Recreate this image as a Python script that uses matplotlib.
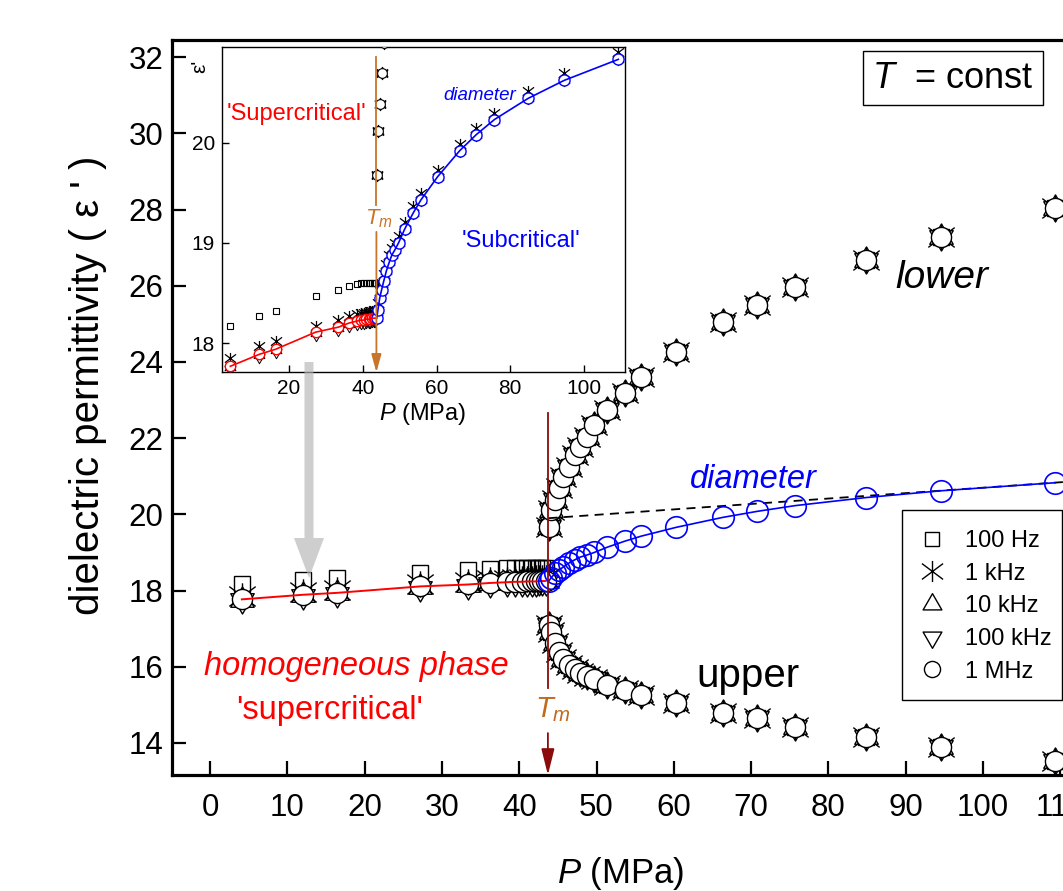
import matplotlib
matplotlib.use('Agg')
import matplotlib.pyplot as plt
from matplotlib.path import Path
from matplotlib.patches import FancyArrow, Rectangle
from matplotlib.lines import Line2D

plt.rcParams['font.family'] = ['Liberation Sans', 'DejaVu Sans']
plt.rcParams['mathtext.fontset'] = 'custom'
plt.rcParams['mathtext.rm'] = 'Liberation Sans'
plt.rcParams['mathtext.it'] = 'Liberation Sans:italic'
plt.rcParams['mathtext.bf'] = 'Liberation Sans:bold'

# ---------------- data ----------------
Tm = 43.7
freq_labels = ['100 Hz', '1 kHz', '10 kHz', '100 kHz', '1 MHz']

# homogeneous ('supercritical') phase, P < Tm
P_homo = [4.1, 12.0, 16.4, 27.2, 33.4, 36.2, 38.4, 39.4, 40.3, 41.0, 41.6, 42.1, 42.6, 43.0, 43.4]
eps_100Hz_homo = [18.17, 18.27, 18.32, 18.47, 18.53, 18.57, 18.59, 18.60, 18.60, 18.60, 18.60, 18.60, 18.60, 18.60, 18.60]
eps_1kHz_homo = [17.85, 17.97, 18.02, 18.17, 18.23, 18.27, 18.29, 18.30, 18.30, 18.31, 18.31, 18.32, 18.32, 18.33, 18.33]
eps_10kHz_homo = [17.76, 17.88, 17.93, 18.10, 18.15, 18.19, 18.21, 18.22, 18.22, 18.23, 18.23, 18.23, 18.24, 18.24, 18.24]
eps_100kHz_homo = [17.74, 17.86, 17.91, 18.08, 18.13, 18.17, 18.19, 18.20, 18.20, 18.21, 18.21, 18.21, 18.22, 18.22, 18.22]
eps_1MHz_homo = [17.77, 17.89, 17.94, 18.11, 18.16, 18.20, 18.22, 18.23, 18.23, 18.24, 18.24, 18.24, 18.25, 18.25, 18.25]

# two-phase region, P > Tm
P_2ph = [43.8, 44.1, 44.6, 45.1, 45.7, 46.4, 47.2, 47.9, 48.7, 49.7, 51.4, 53.7, 55.8, 60.3, 66.3, 70.8, 75.7, 84.8, 94.6, 109.3]
eps_lower = [19.68, 20.12, 20.38, 20.69, 20.99, 21.25, 21.56, 21.78, 22.04, 22.35, 22.74, 23.19, 23.60, 24.27, 25.04, 25.49, 25.98, 26.68, 27.29, 28.05]
eps_upper = [17.10, 16.90, 16.62, 16.38, 16.20, 16.06, 15.94, 15.85, 15.77, 15.67, 15.52, 15.40, 15.27, 15.05, 14.78, 14.65, 14.43, 14.16, 13.90, 13.52]
eps_diam = [18.25, 18.33, 18.45, 18.53, 18.62, 18.72, 18.81, 18.88, 18.93, 19.00, 19.14, 19.30, 19.43, 19.66, 19.92, 20.08, 20.23, 20.44, 20.62, 20.83]
eps_diam_1kHz = [18.32, 18.40, 18.52, 18.60, 18.69, 18.79, 18.88, 18.95, 19.00, 19.07, 19.21, 19.37, 19.50, 19.73, 19.99, 20.15, 20.30, 20.51, 20.69, 20.90]

# rectilinear diameter (dashed)
dash_P = [43.8, 111.2]
dash_eps = [19.90, 20.86]

# ---------------- figure ----------------
W, H = 1063, 891
fig = plt.figure(figsize=(W / 100, H / 100), dpi=100)


def fx(px):
    return px / W


def fy(py):
    return 1 - py / H


def ptxt(px, py, s, **kw):
    kw.setdefault('ha', 'center')
    kw.setdefault('va', 'center')
    return fig.text(fx(px), fy(py), s, **kw)


ast = Path([(0, -1), (0, 1), (-1, -0.75), (1, 0.75), (-1, 0.75), (1, -0.75)],
           [Path.MOVETO, Path.LINETO] * 3)
# equilateral triangles centred on their centroid (Origin style)
tri_up = Path([(0, 1), (-0.866, -0.5), (0.866, -0.5), (0, 1)],
              [Path.MOVETO, Path.LINETO, Path.LINETO, Path.CLOSEPOLY])
tri_dn = Path([(0, -1), (-0.866, 0.5), (0.866, 0.5), (0, -1)],
              [Path.MOVETO, Path.LINETO, Path.LINETO, Path.CLOSEPOLY])

maroon = '#8B0A0A'
tmcol = '#C8742A'

# ---------------- main axes ----------------
ax = fig.add_axes([fx(171.5), fy(775), (1069.6 - 171.5) / W, (775 - 40) / H])
ax.set_xlim(-5.0, 111.2)
ax.set_ylim(13.16, 32.45)
for s in ['left', 'bottom', 'top']:
    ax.spines[s].set_linewidth(2.3)
ax.spines['right'].set_visible(False)
ax.set_xticks(range(0, 111, 10))
ax.set_yticks(range(14, 33, 2))
ax.tick_params(direction='in', length=10, width=1.6, labelsize=22.5)
ax.tick_params(axis='x', pad=13)
ax.tick_params(axis='y', pad=6)

specs = [
    ('s', 12, eps_100Hz_homo, 'none', 3.0),
    (ast, 19, eps_1kHz_homo, 'none', 3.1),
    (tri_up, 19.5, eps_10kHz_homo, 'none', 3.2),
    (tri_dn, 19.5, eps_100kHz_homo, 'none', 3.3),
    ('o', 14.5, eps_1MHz_homo, 'white', 3.4),
]
handles = []
for (m, ms, homo, mfc, z), lab in zip(specs, freq_labels):
    kw = dict(ls='none', marker=m, ms=ms, mfc=mfc, mec='black', mew=1.0, zorder=z)
    ax.plot(P_homo, homo, **kw)
    ax.plot(P_2ph, eps_lower, **kw)
    ax.plot(P_2ph, eps_upper, **kw)
    handles.append(Line2D([], [], label=lab, **kw))

ax.plot(P_homo, eps_1MHz_homo, color='red', lw=1.4, zorder=5)
ax.plot(dash_P, dash_eps, color='black', lw=1.3, ls=(0, (5, 3.5)), zorder=3.5)
ax.plot(P_2ph, eps_diam, color='blue', lw=1.2, zorder=5)
ax.plot(P_2ph, eps_diam, ls='none', marker='o', ms=15.5, mfc='none', mec='blue', mew=1.2, zorder=5)

# Tm marker line and arrow
ax.plot([Tm, Tm], [22.66, 15.44], color=maroon, lw=1.3, zorder=6)
ax.annotate('', xy=(Tm, 13.16), xytext=(Tm, 14.26),
            arrowprops=dict(arrowstyle='-|>,head_length=1.0,head_width=0.25', color=maroon,
                            lw=1.3, mutation_scale=16, shrinkA=0, shrinkB=0), zorder=6)

# legend: frame drawn separately, entries placed inside it
frame = Rectangle((fx(902), fy(700)), (1062 - 902) / W, (700 - 510) / H, transform=fig.transFigure,
                  fc='white', ec='black', lw=1.0, zorder=9, clip_on=False)
ax.add_patch(frame)
leg = ax.legend(handles=handles, loc='upper left', bbox_to_anchor=(fx(922.3), fy(530)),
                bbox_transform=fig.transFigure, borderaxespad=0, borderpad=0, fontsize=17,
                frameon=False, markerscale=0.8, handlelength=0.8, handletextpad=1.0,
                labelspacing=0.45, numpoints=1)
leg.set_zorder(10)

# main texts
ptxt(88, 385, "dielectric permittivity ( ε ' )", rotation=90, fontsize=29)
ptxt(621, 873, r'$P$ (MPa)', fontsize=25)
ptxt(942, 278, 'lower', fontsize=28, style='italic')
ptxt(748, 676, 'upper', fontsize=29)
ptxt(753, 480, 'diameter', fontsize=23.5, style='italic', color='blue')
ptxt(356, 667, 'homogeneous phase', fontsize=23.5, style='italic', color='red')
ptxt(330, 710, "'supercritical'", fontsize=23.5, color='red')
ptxt(553, 710, r'$T_m$', fontsize=21, color='#C06A1C')
ptxt(953, 78, r'$T$  = const', fontsize=26,
     bbox=dict(boxstyle='square,pad=0.25', fc='white', ec='black', lw=1.0))

# ---------------- inset ----------------
ax_in = fig.add_axes([fx(221.7), fy(372.3), (625 - 221.7) / W, (372.3 - 47.3) / H])
ax_in.set_xlim(1.76, 111.1)
ax_in.set_ylim(17.71, 20.95)
ax_in.set_xticks([20, 40, 60, 80, 100])
ax_in.set_yticks([18, 19, 20])
ax_in.tick_params(direction='in', length=5, width=1.0, labelsize=15, pad=5)
for s in ax_in.spines.values():
    s.set_linewidth(1.0)

ax_in.plot(P_homo, eps_100Hz_homo, ls='none', marker='s', ms=5, mfc='none', mec='black', mew=0.8, zorder=3)
ax_in.plot(P_2ph, eps_lower, ls='none', marker='s', ms=5, mfc='none', mec='black', mew=0.8, zorder=3)
ax_in.plot(P_homo, eps_1kHz_homo, ls='none', marker=ast, ms=8, mfc='none', mec='black', mew=0.9, zorder=3)
ax_in.plot(P_2ph, eps_lower, ls='none', marker=ast, ms=8, mfc='none', mec='black', mew=0.9, zorder=3)
ax_in.plot(P_2ph, eps_diam_1kHz, ls='none', marker=ast, ms=8, mfc='none', mec='black', mew=0.9, zorder=3)
for m, homo in [(tri_up, eps_10kHz_homo), (tri_dn, eps_100kHz_homo)]:
    for P, E in [(P_homo, homo), (P_2ph, eps_lower), (P_2ph, eps_diam)]:
        ax_in.plot(P, E, ls='none', marker=m, ms=9, mfc='none', mec='black', mew=0.7, zorder=3)
ax_in.plot(P_2ph, eps_lower, ls='none', marker='o', ms=7, mfc='white', mec='black', mew=0.8, zorder=3.5)
ax_in.plot(P_homo, eps_1MHz_homo, ls='none', marker='o', ms=7.5, mfc='white', mec='red', mew=1.0, zorder=3.6)
ax_in.plot(P_homo, eps_1MHz_homo, color='red', lw=1.2, zorder=4)
ax_in.plot(P_2ph, eps_diam, ls='none', marker='o', ms=8, mfc='white', mec='blue', mew=1.0, zorder=3.6)
ax_in.plot(P_2ph, eps_diam, color='blue', lw=1.2, zorder=4)

ax_in.plot([Tm, Tm], [20.85, 19.38], color=tmcol, lw=1.3, zorder=5)
ax_in.annotate('', xy=(Tm, 17.71), xytext=(Tm, 19.11),
               arrowprops=dict(arrowstyle='-|>,head_length=0.9,head_width=0.25', color=tmcol,
                               lw=1.3, mutation_scale=12, shrinkA=0, shrinkB=0), zorder=5)

ptxt(379, 219, r'$T_m$', fontsize=16, color=tmcol)
ptxt(297, 114, "'Supercritical'", fontsize=17, color='red')
ptxt(480, 96, 'diameter', fontsize=13.5, style='italic', color='blue')
ptxt(521, 241, "'Subcritical'", fontsize=17, color='blue')
ptxt(423, 414, r'$P$ (MPa)', fontsize=17)
ptxt(200, 66, "ε'", fontsize=15, rotation=90)

# gray zoom arrow (figure inches)
arr = FancyArrow(3.09, (H - 362) / 100, 0, -(578 - 362) / 100 + 0.40, width=0.09,
                 head_width=0.30, head_length=0.40, length_includes_head=False,
                 transform=fig.dpi_scale_trans, color='#b4b4b4', alpha=0.65, lw=0, zorder=20)
fig.patches.append(arr)

fig.savefig('out.png', dpi=100)
